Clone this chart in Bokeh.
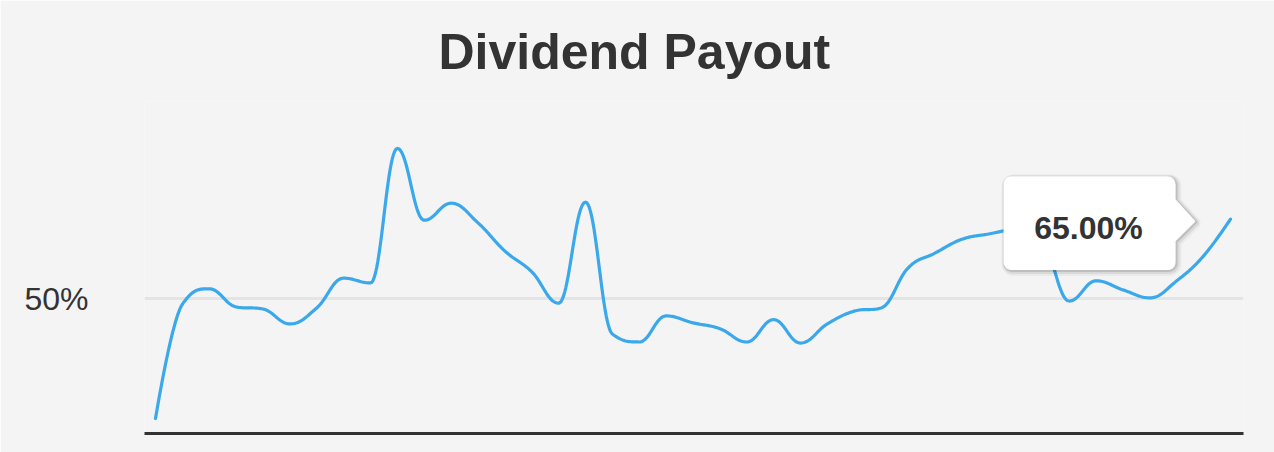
import math
from bokeh.plotting import figure
from bokeh.models import Range1d, FixedTicker, PrintfTickFormatter, Label
from bokeh.embed import file_html
from bokeh.resources import INLINE

# ---------------- data ----------------
periods = list(range(1, 42))
payout = [27.5, 49.0, 51.9, 48.5, 48.1, 45.3, 48.3, 53.9, 53.0, 78.3,
          64.8, 68.0, 64.3, 59.0, 55.1, 49.2, 68.2, 43.4, 41.9, 46.8,
          45.5, 44.4, 41.9, 46.1, 41.7, 45.3, 47.7, 48.3, 55.8, 58.6,
          61.2, 62.2, 63.0, 61.0, 49.6, 53.4, 51.7, 50.2, 53.4, 58.1, 65.0]
y_ticks = [50]
title_text = "Dividend Payout"
tooltip_text = f"{payout[-1]:.2f}%"

# ---------------- layout ----------------
W, H = 1274, 452
BL, BR, BT, BB = 144, 31, 100, 19
FW, FH = W - BL - BR, H - BT - BB
PX_PER_X = 26.875
PX_PER_Y = 5.3333
x0 = periods[0] - 11 / PX_PER_X
x1 = x0 + FW / PX_PER_X
y0 = 50 - 135 / PX_PER_Y
y1 = y0 + FH / PX_PER_Y

BG = "#f4f4f4"
TXT = "#333333"
LINE = "#3ba8ec"
FONT = "Liberation Sans"

p = figure(width=W, height=H, output_backend="svg", toolbar_location=None,
           x_range=Range1d(x0, x1), y_range=Range1d(y0, y1),
           min_border_left=BL, min_border_right=BR, min_border_top=BT,
           min_border_bottom=BB, title=title_text)
p.background_fill_color = BG
p.border_fill_color = BG
p.outline_line_color = None

p.title.text_font = FONT
p.title.text_font_size = "50px"
p.title.text_font_style = "bold"
p.title.text_color = TXT
p.title.align = "left"
p.title.offset = 294
p.title.standoff = 43

# axes
p.xaxis.ticker = FixedTicker(ticks=[])
p.xaxis.major_tick_line_color = None
p.xaxis.minor_tick_line_color = None
p.xaxis.major_tick_out = 0
p.xaxis.major_tick_in = 0
p.xaxis.axis_line_color = TXT
p.xaxis.axis_line_width = 3

p.yaxis.ticker = FixedTicker(ticks=y_ticks)
p.yaxis.formatter = PrintfTickFormatter(format="%d%%")
p.yaxis.axis_line_color = None
p.yaxis.major_tick_line_color = None
p.yaxis.minor_tick_line_color = None
p.yaxis.major_tick_out = 0
p.yaxis.major_tick_in = 0
p.yaxis.major_label_standoff = 56
p.yaxis.major_label_text_font = FONT
p.yaxis.major_label_text_font_size = "32px"
p.yaxis.major_label_text_color = TXT

p.xgrid.grid_line_color = None
p.ygrid.ticker = FixedTicker(ticks=y_ticks)
p.ygrid.grid_line_color = "#e4e4e4"
p.ygrid.grid_line_width = 3


# ---------------- Highcharts-like spline ----------------
def spline(xs, ys, smoothing=1.5, steps=24):
    n = len(xs)
    lc, rc = [None] * n, [None] * n
    d = smoothing + 1
    for i in range(n):
        px, py = xs[i], ys[i]
        if 0 < i < n - 1:
            lx, ly = xs[i - 1], ys[i - 1]
            nx, ny = xs[i + 1], ys[i + 1]
            lcx = (smoothing * px + lx) / d
            lcy = (smoothing * py + ly) / d
            rcx = (smoothing * px + nx) / d
            rcy = (smoothing * py + ny) / d
            corr = ((rcy - lcy) * (rcx - px)) / (rcx - lcx) + py - rcy
            lcy += corr
            rcy += corr
            if lcy > ly and lcy > py:
                lcy = max(ly, py); rcy = 2 * py - lcy
            elif lcy < ly and lcy < py:
                lcy = min(ly, py); rcy = 2 * py - lcy
            if rcy > ny and rcy > py:
                rcy = max(ny, py); lcy = 2 * py - rcy
            elif rcy < ny and rcy < py:
                rcy = min(ny, py); lcy = 2 * py - rcy
            lc[i] = (lcx, lcy); rc[i] = (rcx, rcy)
        else:
            lc[i] = (px, py); rc[i] = (px, py)
    ox, oy = [xs[0]], [ys[0]]
    for i in range(1, n):
        p0 = (xs[i - 1], ys[i - 1]); p1 = rc[i - 1]; p2 = lc[i]; p3 = (xs[i], ys[i])
        for s in range(1, steps + 1):
            t = s / steps
            a, b, c, e = (1 - t) ** 3, 3 * (1 - t) ** 2 * t, 3 * (1 - t) * t ** 2, t ** 3
            ox.append(a * p0[0] + b * p1[0] + c * p2[0] + e * p3[0])
            oy.append(a * p0[1] + b * p1[1] + c * p2[1] + e * p3[1])
    return ox, oy


sx, sy = spline(periods, payout)
p.line(sx, sy, line_color=LINE, line_width=3.2, line_cap="round", line_join="round")

# ---------------- tooltip (callout left of last point) ----------------
ax, ay = periods[-1], payout[-1]


def to_data(dx, dy):
    # dx right, dy down, in pixels relative to the anchor point
    return ax + dx / PX_PER_X, ay - dy / PX_PER_Y


L, R, T, B, r = -227, -55, -43, 51, 8
pts = []
for cx, cy, a0 in [(R - r, T + r, -90), (R - r, B - r, 0), (L + r, B - r, 90), (L + r, T + r, 180)]:
    for k in range(0, 7):
        ang = math.radians(a0 + 15 * k)
        pts.append((cx + r * math.cos(ang), cy + r * math.sin(ang)))
    if a0 == -90:
        # right edge with arrow
        pts.append((R, -20))
        pts.append((-35, 2))
        pts.append((R, 22))

for off, w, al in [(2, 8, 0.04), (1.5, 5, 0.07), (1, 2, 0.12)]:
    xs_ = [to_data(x + off, y + off)[0] for x, y in pts]
    ys_ = [to_data(x + off, y + off)[1] for x, y in pts]
    p.patch(xs_, ys_, fill_color=None, line_color="black", line_alpha=al, line_width=w)

xs_ = [to_data(x, y)[0] for x, y in pts]
ys_ = [to_data(x, y)[1] for x, y in pts]
p.patch(xs_, ys_, fill_color="white", line_color=None)

tx, ty = to_data((L + R) / 2 - 1, (T + B) / 2 + 5)
p.add_layout(Label(x=tx, y=ty, text=tooltip_text, text_font=FONT, text_font_size="32px",
                   text_font_style="bold", text_color=TXT, text_align="center",
                   text_baseline="middle"))

open("out.html", "w").write(file_html(p, INLINE))
